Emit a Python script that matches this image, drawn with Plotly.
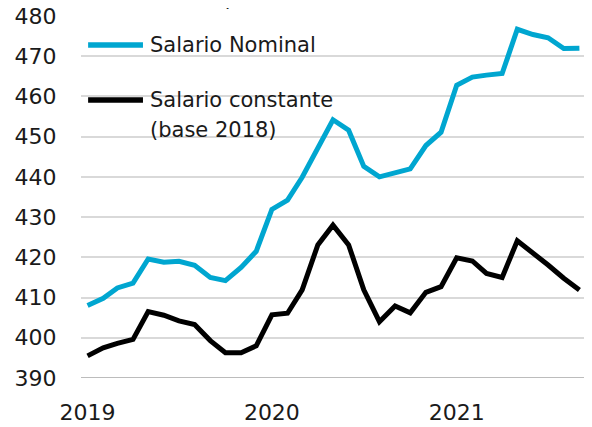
import pandas as pd
import plotly.graph_objects as go

months = pd.date_range("2019-01-01", "2021-09-01", freq="MS")

salario_nominal = [
    408.0, 409.8, 412.4, 413.6, 419.6, 418.8, 419.0, 418.0, 415.0, 414.2, 417.5, 421.5,
    431.9, 434.2, 439.9, 447.3, 454.2, 451.6, 442.6, 440.0, 441.0, 442.0, 447.8, 451.1,
    462.8, 464.8, 465.3, 465.7, 476.7, 475.4, 474.6, 471.9, 472.0,
]
salario_constante = [
    395.5, 397.5, 398.6, 399.6, 406.5, 405.6, 404.2, 403.3, 399.3, 396.3, 396.3, 398.0,
    405.7, 406.1, 411.9, 423.1, 428.0, 423.1, 411.9, 404.0, 407.9, 406.2, 411.3, 412.7,
    419.9, 419.1, 416.0, 415.0, 424.1, 421.2, 418.1, 414.8, 411.9,
]

series_names = ["Salario Nominal", "Salario constante (base 2018)"]
legend_lines = [["Salario Nominal"], ["Salario constante", "(base 2018)"]]
series_colors = ["#00A6D0", "#000000"]
year_ticks = ["2019-01-01", "2020-01-01", "2021-01-01"]
year_labels = ["2019", "2020", "2021"]
y_ticks = list(range(390, 481, 10))

FONT = "DejaVu Sans"
TXT = "#1a1a1a"

fig = go.Figure()
for vals, name, col in zip([salario_nominal, salario_constante], series_names, series_colors):
    fig.add_trace(go.Scatter(
        x=months, y=vals, mode="lines", name=name,
        line=dict(color=col, width=5, shape="linear"),
        showlegend=False,
    ))

# custom legend (swatch + text lines)
leg_y = [0.920, 0.768]
line_step = 0.083
for (yy, col, lines) in zip(leg_y, series_colors, legend_lines):
    fig.add_shape(type="line", xref="paper", yref="paper",
                  x0=0.014, x1=0.122, y0=yy, y1=yy,
                  line=dict(color=col, width=5.5))
    for k, txt in enumerate(lines):
        fig.add_annotation(xref="paper", yref="paper", x=0.131, y=yy - k * line_step,
                           xanchor="left", yanchor="middle",
                           text=txt, showarrow=False, align="left",
                           font=dict(family=FONT, size=21, color=TXT))

# clipped title (only descenders visible)
fig.add_annotation(xref="paper", yref="paper", x=0.28, y=1, xanchor="left",
                   yanchor="bottom", yshift=5, text="pesos mensuales",
                   showarrow=False, font=dict(family=FONT, size=19, color=TXT))

# page body has an 8px margin: shrink the figure so the plot area lands
# at the reference position (x 81..589, y 16..378 in the window)
fig.update_layout(
    width=584, height=419,
    margin=dict(l=73, r=3, t=8, b=49),
    paper_bgcolor="white", plot_bgcolor="white",
    font=dict(family=FONT, size=20, color=TXT),
)
fig.update_xaxes(
    range=["2018-12-19", "2021-09-20"],
    tickvals=year_ticks, ticktext=year_labels,
    showgrid=False, zeroline=False, showline=False, automargin=False,
    ticks="outside", ticklen=15, tickcolor="rgba(0,0,0,0)",
    ticklabeloverflow="allow",
    tickfont=dict(family=FONT, size=22, color=TXT),
)
fig.update_yaxes(
    range=[390, 480], tickvals=y_ticks,
    showgrid=True, gridcolor="#d9d9d9", gridwidth=1.5,
    zeroline=False, showline=False, automargin=False,
    ticks="outside", ticklen=19, tickcolor="rgba(0,0,0,0)",
    ticklabeloverflow="allow",
    tickfont=dict(family=FONT, size=22, color=TXT),
)
# darker baseline at 390
fig.add_hline(y=390, line=dict(color="#a6a6a6", width=1.5), layer="below")

fig.write_html("out.html")
